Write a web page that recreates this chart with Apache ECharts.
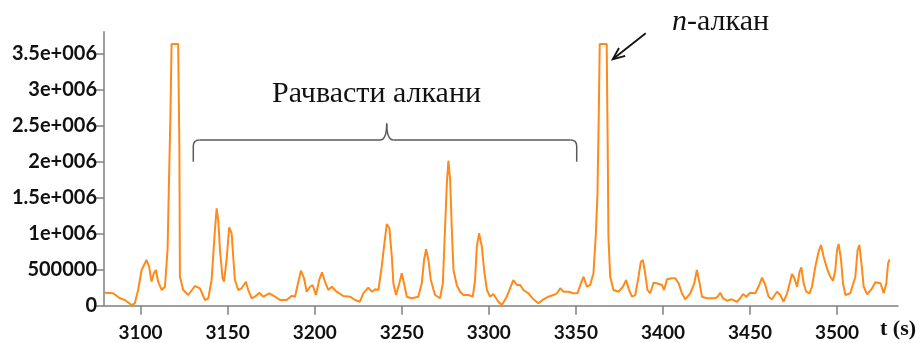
<!DOCTYPE html>
<html>
<head>
<meta charset="utf-8">
<script src="https://cdn.jsdelivr.net/npm/echarts@6/dist/echarts.min.js"></script>
<style>
html,body{margin:0;padding:0;background:#fff;}
#chart{width:922px;height:343px;}
</style>
</head>
<body>
<div id="chart"></div>
<script>
// retention time (s)
var times = [3079.5,3084.3,3088.1,3091.0,3094.8,3096.7,3098.6,3100.6,3103.4,3104.9,3106.3,3107.6,3108.8,3110.1,3112.1,3114.0,3115.5,3116.3,3117.1,3117.8,3121.6,3122.3,3122.6,3124.5,3127.4,3131.2,3134.1,3137.0,3138.9,3140.8,3142.7,3143.7,3144.6,3145.6,3147.1,3147.9,3149.4,3150.9,3152.3,3153.2,
3154.2,3156.1,3158.0,3160.5,3161.8,3163.8,3165.7,3168.2,3170.5,3173.9,3177.2,3180.1,3183.9,3186.8,3188.7,3190.6,3192.1,3193.9,3195.4,3197.3,3198.8,3200.7,3202.6,3204.2,3205.9,3207.8,3209.8,3212.6,3216.4,3220.3,3223.2,3226.0,
3227.9,3230.8,3232.8,3234.7,3236.6,3238.5,3239.8,3241.4,3242.9,3244.3,3245.2,3246.7,3248.6,3250.0,3251.3,3252.9,3255.7,3259.5,3261.5,3262.8,3264.0,3265.3,3266.7,3269.1,3272.0,3273.6,3274.9,3275.9,3276.8,3277.8,3278.7,3279.7,3281.6,3283.5,3285.4,3288.3,3290.8,3292.1,3293.1,3294.4,3296.0,3297.3,3298.9,3300.7,3302.6,
3303.6,3305.5,3307.5,3310.3,3312.6,3314.1,3316.1,3318.0,3319.9,3322.8,3325.6,3328.5,3331.4,3334.2,3337.1,3339.1,3341.0,3342.9,3345.7,3348.6,3350.9,3352.9,3354.4,3356.3,3358.2,3360.1,3361.5,3362.4,3363.1,3363.7,3367.7,3368.3,3368.7,3369.7,3371.6,3374.5,3377.0,
3378.9,3380.2,3382.2,3384.1,3386.0,3387.3,3388.5,3389.8,3391.1,3392.7,3394.6,3396.5,3399.4,3400.7,3402.3,3405.2,3407.1,3409.0,3410.9,3412.8,3415.7,3418.0,3419.5,3420.9,3422.4,3425.3,3430.1,3431.4,3432.9,3434.5,3436.8,3439.6,3442.5,3444.4,3446.0,3447.9,3450.2,
3453.0,3454.9,3456.9,3458.8,3460.7,3462.6,3465.5,3467.4,3469.3,3471.3,3472.8,3474.1,3475.5,3477.0,3478.5,3479.5,3480.8,3482.3,3484.2,3485.6,3487.5,3489.4,3490.8,3492.3,3494.2,3496.1,3497.7,3499.0,3500.0,3500.9,3502.3,3503.4,3504.8,3507.6,3510.5,3511.8,3512.8,3514.0,3515.3,3517.3,3520.1,3522.0,3524.9,3526.8,3528.3,3529.3,3530.2];

// detector signal
var intensity = [180000,172000,103000,79000,10000,33000,218000,495000,634000,541000,333000,449000,495000,333000,218000,263000,772000,1701000,2575000,3629000,3629000,2159000,402000,218000,148000,273000,241000,79000,103000,356000,1050000,1351000,1188000,772000,380000,333000,634000,1087000,1004000,679000,
356000,218000,241000,333000,218000,103000,125000,180000,125000,172000,125000,79000,79000,139000,125000,333000,485000,380000,194000,263000,287000,148000,356000,463000,333000,218000,263000,194000,134000,125000,79000,55000,
172000,250000,194000,227000,218000,541000,818000,1133000,1073000,679000,311000,148000,311000,449000,311000,125000,103000,125000,311000,634000,782000,634000,356000,148000,103000,311000,1095000,1697000,2011000,1743000,1095000,495000,287000,194000,148000,148000,125000,356000,818000,1004000,818000,495000,218000,125000,162000,
162000,55000,10000,125000,263000,356000,287000,287000,218000,172000,89000,33000,89000,125000,148000,172000,241000,194000,194000,172000,172000,311000,402000,263000,287000,449000,1004000,1559000,2575000,3629000,3629000,2159000,957000,402000,218000,194000,263000,
356000,241000,125000,148000,402000,610000,634000,449000,218000,172000,319000,311000,287000,218000,366000,380000,380000,311000,172000,89000,172000,311000,495000,333000,125000,103000,103000,125000,180000,103000,69000,89000,55000,103000,162000,125000,180000,
172000,263000,388000,287000,125000,89000,194000,148000,55000,172000,311000,440000,380000,263000,471000,532000,311000,194000,172000,263000,541000,749000,842000,679000,519000,402000,347000,495000,772000,856000,634000,311000,148000,172000,402000,772000,842000,588000,263000,158000,241000,324000,311000,172000,311000,588000,643000];

var xTicks = [3100,3150,3200,3250,3300,3350,3400,3450,3500];
var xTickLabels = ['3100','3150','3200','3250','3300','3350','3400','3450','3500'];
var yTicks = [0,500000,1000000,1500000,2000000,2500000,3000000,3500000];
var yTickLabels = ['0','500000','1e+006','1.5e+006','2e+006','2.5e+006','3e+006','3.5e+006'];

var seriesData = times.map(function(t,i){ return [t, intensity[i]]; });

var chart = echarts.init(document.getElementById('chart'), null, {renderer:'canvas'});
var axisColor = '#808080';
var braceStyle = {stroke:'#595959', lineWidth:1.5, fill:null};

chart.setOption({
  animation:false,
  backgroundColor:'#ffffff',
  grid:{left:104, right:24, top:31.7, bottom:37.3},
  xAxis:{
    type:'value', min:3079, max:3535,
    axisLine:{show:true, lineStyle:{color:axisColor, width:1.5}},
    axisTick:{show:true, customValues:xTicks, length:9, lineStyle:{color:axisColor, width:1.5}},
    axisLabel:{customValues:xTicks, margin:18, fontFamily:'Lato', fontWeight:'bold', fontSize:19, color:'#111',
      formatter:function(v){var i=xTicks.indexOf(v);return i>=0?xTickLabels[i]:'';}},
    splitLine:{show:false}
  },
  yAxis:{
    type:'value', min:0, max:3800000,
    axisLine:{show:true, lineStyle:{color:axisColor, width:1.5}},
    axisTick:{show:true, customValues:yTicks, length:8, lineStyle:{color:axisColor, width:1.5}},
    axisLabel:{customValues:yTicks, margin:7, fontFamily:'Lato', fontWeight:'bold', fontSize:20, color:'#111',
      formatter:function(v){var i=yTicks.indexOf(v);return i>=0?yTickLabels[i]:'';}},
    splitLine:{show:false}
  },
  series:[{
    type:'line', data:seriesData, showSymbol:false, symbol:'none',
    lineStyle:{color:'#ff8a1a', width:2},
    smooth:false
  }],
  graphic:[
    {type:'text', left:272, top:79, style:{text:'Рачвасти алкани', fontFamily:'Liberation Serif', fontSize:30, fill:'#111'}},
    {type:'line', shape:{x1:193.3,y1:161.7,x2:193.3,y2:146}, style:braceStyle},
    {type:'bezierCurve', shape:{x1:193.3,y1:146,cpx1:193.3,cpy1:140,x2:199.5,y2:140}, style:braceStyle},
    {type:'line', shape:{x1:199.5,y1:140,x2:380,y2:140}, style:braceStyle},
    {type:'bezierCurve', shape:{x1:380,y1:140,cpx1:386.7,cpy1:140,x2:386.7,y2:123.5}, style:braceStyle},
    {type:'bezierCurve', shape:{x1:386.7,y1:123.5,cpx1:386.7,cpy1:140,x2:393.5,y2:140}, style:braceStyle},
    {type:'line', shape:{x1:393.5,y1:140,x2:570.5,y2:140}, style:braceStyle},
    {type:'bezierCurve', shape:{x1:570.5,y1:140,cpx1:576.7,cpy1:140,x2:576.7,y2:146}, style:braceStyle},
    {type:'line', shape:{x1:576.7,y1:146,x2:576.7,y2:161.7}, style:braceStyle},
    {type:'text', left:672, top:7, style:{text:'{i|n}-алкан', fontFamily:'Liberation Serif', fontSize:30, fill:'#111', rich:{i:{fontStyle:'italic', fontFamily:'Liberation Serif', fontSize:30, fill:'#111'}}}},
    {type:'line', shape:{x1:645.7,y1:33.3,x2:612.7,y2:59.3}, style:{stroke:'#111', lineWidth:1.8}},
    {type:'polyline', shape:{points:[[625.2,55.8],[612.7,59.3],[619.0,48.0]]}, style:{stroke:'#111', lineWidth:1.8, fill:null}},
    {type:'text', left:880, top:318, style:{text:'t (s)', fontFamily:'Liberation Serif', fontWeight:'bold', fontSize:22, fill:'#111'}}
  ]
});
</script>
</body>
</html>
